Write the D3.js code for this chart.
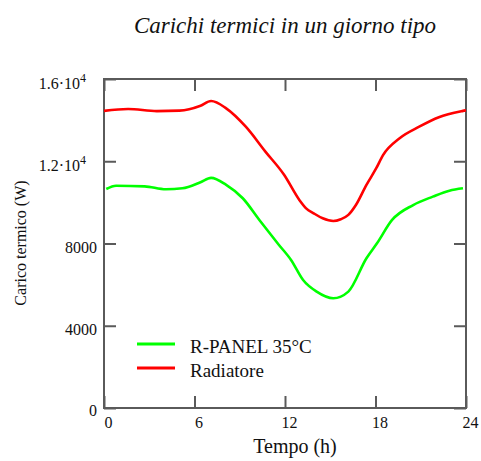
<!DOCTYPE html>
<html>
<head>
<meta charset="utf-8">
<script src="https://cdn.jsdelivr.net/npm/d3@7"></script>
<style>
  html, body { margin: 0; padding: 0; background: #fff; }
  svg { display: block; }
  svg text { font-family: "Liberation Serif", "Times New Roman", serif; }
</style>
</head>
<body>
<svg id="chart" width="481" height="461"></svg>
<script>
// ---- Data ----
const chartTitle = "Carichi termici in un giorno tipo";
const xTitle = "Tempo (h)";
const yTitle = "Carico termico (W)";
const xTicks = [0, 6, 12, 18, 24];
const yTicks = [0, 4000, 8000, 12000, 16000];
const seriesNames = ["R-PANEL 35°C", "Radiatore"];
const seriesColors = ["#00ff00", "#ff0000"];

const greenHours = [0.15, 0.8, 2.7, 4.1, 5.2, 6.4, 7.1, 8.1, 9.2, 10.3, 11.6, 12.4, 13.2, 14.1, 15.2, 16.2, 17.4, 18.1, 19.1, 20.5, 21.8, 22.9, 23.8];
const greenLoad  = [10650, 10810, 10780, 10635, 10685, 10980, 11190, 10850, 10200, 9145, 7930, 7200, 6225, 5660, 5335, 5660, 7280, 8010, 9145, 9870, 10280, 10570, 10685];

const redHours = [0, 1.6, 3.5, 5, 6.4, 7.1, 8.1, 9.4, 10.7, 11.95, 12.95, 13.4, 13.9, 14.5, 15.2, 15.7, 16.2, 16.7, 17.4, 18.05, 18.5, 19.6, 20.9, 22.2, 23.8, 24];
const redLoad  = [14450, 14540, 14440, 14460, 14700, 14930, 14575, 13680, 12470, 11330, 10120, 9710, 9470, 9225, 9095, 9180, 9390, 9870, 10850, 11660, 12300, 13120, 13680, 14140, 14450, 14480];

// ---- Layout ----
const svg = d3.select("#chart");
const serif = "Liberation Serif";
const L = 104, R = 466, T = 79, B = 408;
const x = d3.scaleLinear().domain([0, 24]).range([L, R]);
const y = d3.scaleLinear().domain([0, 16000]).range([B, T]);
const frameColor = "#5a5a5a";

// Title
svg.append("text").attr("x", 285).attr("y", 33)
  .attr("text-anchor", "middle").attr("font-style", "italic").attr("font-family", serif)
  .attr("font-size", 23).attr("fill", "#111").text(chartTitle);

// Axes (inward ticks on all four sides)
function styleAxis(g) {
  g.attr("font-family", serif);
  g.select(".domain").remove();
  g.selectAll(".tick line").attr("stroke", frameColor).attr("stroke-width", 2);
}
const gLeft = svg.append("g").attr("transform", `translate(${L},0)`)
  .call(d3.axisLeft(y).tickValues(yTicks).tickSize(-12).tickPadding(7).tickFormat(d => d))
  .call(styleAxis);
gLeft.selectAll(".tick text")
  .attr("font-family", serif).attr("font-size", 16).attr("fill", "#111")
  .attr("dy", d => d === 0 ? "7px" : "9px")
  .each(function(d) {
    if (d >= 10000) {
      const t = d3.select(this);
      const mant = d / 10000;
      t.text("").attr("x", -18);
      t.append("tspan").text(mant.toFixed(1) + "·10");
      t.append("tspan").attr("dy", "-7").attr("font-size", 12).text("4");
    }
  });

svg.append("g").attr("transform", `translate(${R},0)`)
  .call(d3.axisRight(y).tickValues(yTicks).tickSize(-12).tickFormat(""))
  .call(styleAxis);

const gBottom = svg.append("g").attr("transform", `translate(0,${B})`)
  .call(d3.axisBottom(x).tickValues(xTicks).tickSize(-12).tickFormat(d => d))
  .call(styleAxis);
gBottom.selectAll(".tick text")
  .attr("font-family", serif).attr("font-size", 16).attr("fill", "#111")
  .attr("y", 20).attr("dy", 0).attr("dx", 4);

svg.append("g").attr("transform", `translate(0,${T})`)
  .call(d3.axisTop(x).tickValues(xTicks).tickSize(-12).tickFormat(""))
  .call(styleAxis);

// Frame
svg.append("rect").attr("x", L).attr("y", T).attr("width", R - L).attr("height", B - T)
  .attr("fill", "none").attr("stroke", frameColor).attr("stroke-width", 2);

// Lines
const line = d3.line().x(d => x(d[0])).y(d => y(d[1])).curve(d3.curveMonotoneX);
const greenData = greenHours.map((h, i) => [h, greenLoad[i]]);
const redData = redHours.map((h, i) => [h, redLoad[i]]);
svg.append("path").datum(greenData).attr("d", line)
  .attr("fill", "none").attr("stroke", seriesColors[0]).attr("stroke-width", 2.6);
svg.append("path").datum(redData).attr("d", line)
  .attr("fill", "none").attr("stroke", seriesColors[1]).attr("stroke-width", 2.6);

// Axis titles
svg.append("text").attr("x", 295).attr("y", 453).attr("text-anchor", "middle")
  .attr("font-family", serif).attr("font-size", 20).attr("fill", "#111").text(xTitle);
svg.append("text").attr("transform", "translate(26,243) rotate(-90)")
  .attr("text-anchor", "middle").attr("font-family", serif).attr("font-size", 16)
  .attr("fill", "#111").text(yTitle);

// Legend
const legend = svg.append("g");
seriesNames.forEach((name, i) => {
  const ly = 344 + i * 24;
  legend.append("line").attr("x1", 137).attr("x2", 175).attr("y1", ly).attr("y2", ly)
    .attr("stroke", seriesColors[i]).attr("stroke-width", 3);
  legend.append("text").attr("x", 190).attr("y", ly + 9)
    .attr("font-family", serif).attr("font-size", 19).attr("fill", "#111").text(name);
});
</script>
</body>
</html>
